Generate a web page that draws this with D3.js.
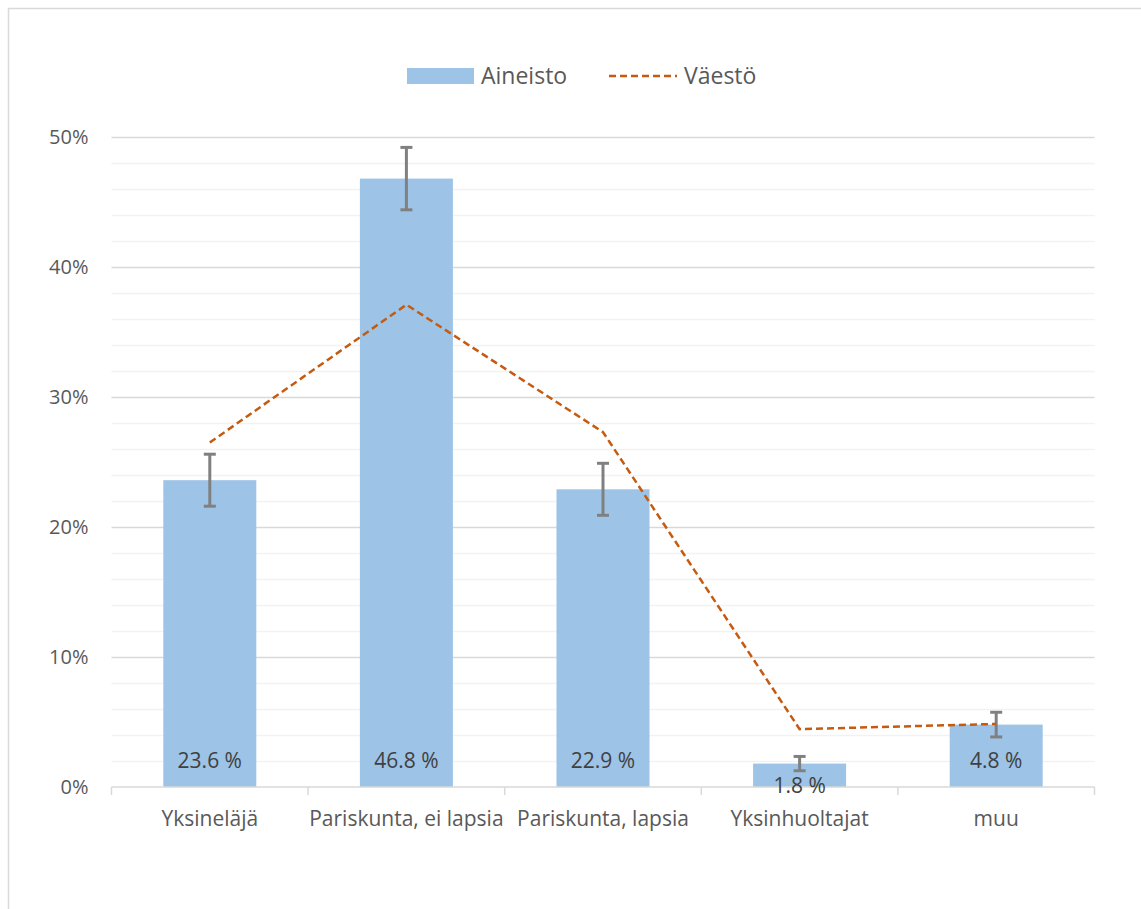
<!DOCTYPE html>
<html><head><meta charset="utf-8">
<script src="https://cdn.jsdelivr.net/npm/d3@7"></script>
<style>body{margin:0;background:#fff}svg{display:block;font-family:"Open Sans","Noto Sans",sans-serif}</style>
</head><body><svg id="c" width="1141" height="909"></svg>
<script>
const categories = ["Yksineläjä","Pariskunta, ei lapsia","Pariskunta, lapsia","Yksinhuoltajat","muu"];
const aineisto = [23.6, 46.8, 22.9, 1.8, 4.8];
const errorMargin = [2.0, 2.4, 2.0, 0.55, 0.95];
const vaesto = [26.5, 37.1, 27.3, 4.45, 4.85];
const dataLabels = ["23.6 %","46.8 %","22.9 %","1.8 %","4.8 %"];
const yTicks = [0,10,20,30,40,50];
const minorTicks = [2,4,6,8,12,14,16,18,22,24,26,28,32,34,36,38,42,44,46,48];

(function(){
const svg = d3.select("#c");
const pL = 111.5, pR = 1094.5, pT = 137, pB = 787;
svg.append("rect").attr("x",8.5).attr("y",8.5).attr("width",1200).attr("height",1000)
  .attr("fill","#fff").attr("stroke","#d9d9d9").attr("stroke-width",1.5);

const x = d3.scaleBand().domain(categories).range([pL,pR]).paddingInner(0.527).paddingOuter(0.2635);
const xb = d3.scaleBand().domain(categories).range([pL,pR]);
const y = d3.scaleLinear().domain([0,50]).range([pB,pT]);

svg.append("g").selectAll("line").data(minorTicks).join("line")
  .attr("x1",pL).attr("x2",pR).attr("y1",d=>Math.round(y(d))+0.5).attr("y2",d=>Math.round(y(d))+0.5)
  .attr("stroke","#f2f2f2").attr("stroke-width",1.5);
svg.append("g").selectAll("line").data(yTicks.filter(d=>d>0)).join("line")
  .attr("x1",pL).attr("x2",pR).attr("y1",d=>Math.round(y(d))+0.5).attr("y2",d=>Math.round(y(d))+0.5)
  .attr("stroke","#d9d9d9").attr("stroke-width",1.5);

const yAxis = svg.append("g").attr("transform",`translate(${pL},0)`)
  .call(d3.axisLeft(y).tickValues(yTicks).tickFormat(d=>d+"%").tickSize(0).tickPadding(23));
yAxis.select(".domain").remove();
yAxis.attr("font-family",null).attr("font-size",null);
yAxis.selectAll("text").attr("fill","#595959").attr("font-size","20px");

svg.append("g").selectAll("rect").data(categories).join("rect")
  .attr("x",d=>x(d)).attr("width",x.bandwidth())
  .attr("y",(d,i)=>y(aineisto[i])).attr("height",(d,i)=>y(0)-y(aineisto[i]))
  .attr("fill","#9dc3e6");

const xAxis = svg.append("g").attr("transform",`translate(0,${pB})`);
xAxis.append("line").attr("x1",pL).attr("x2",pR).attr("y1",0).attr("y2",0).attr("stroke","#d9d9d9").attr("stroke-width",1.5);
xAxis.selectAll("line.tk").data(d3.range(categories.length+1)).join("line").attr("class","tk")
  .attr("x1",i=>pL+i*xb.bandwidth()).attr("x2",i=>pL+i*xb.bandwidth()).attr("y1",0).attr("y2",8)
  .attr("stroke","#d9d9d9").attr("stroke-width",1.5);
xAxis.selectAll("text").data(categories).join("text")
  .attr("x",d=>x(d)+x.bandwidth()/2).attr("y",39).attr("text-anchor","middle")
  .attr("fill","#595959").attr("font-size","21px").text(d=>d);

svg.append("g").selectAll("text").data(categories).join("text")
  .attr("x",d=>x(d)+x.bandwidth()/2)
  .attr("y",(d,i)=>Math.max(y(0)-19, y(aineisto[i])+29)).attr("text-anchor","middle")
  .attr("fill","#404040").attr("font-size","21px").text((d,i)=>dataLabels[i]);

const eg = svg.append("g").attr("stroke","#808080").attr("stroke-width",3);
categories.forEach((c,i)=>{
  const cx = x(c)+x.bandwidth()/2;
  const y1 = y(aineisto[i]+errorMargin[i]), y2 = y(aineisto[i]-errorMargin[i]);
  eg.append("line").attr("x1",cx).attr("x2",cx).attr("y1",y1).attr("y2",y2);
  eg.append("line").attr("x1",cx-6).attr("x2",cx+6).attr("y1",y1).attr("y2",y1);
  eg.append("line").attr("x1",cx-6).attr("x2",cx+6).attr("y1",y2).attr("y2",y2);
});

const line = d3.line().x((d,i)=>x(categories[i])+x.bandwidth()/2).y(d=>y(d));
svg.append("path").datum(vaesto).attr("d",line).attr("fill","none")
  .attr("stroke","#c55a11").attr("stroke-width",2.5).attr("stroke-dasharray","7,4");

const lg = svg.append("g");
lg.append("rect").attr("x",407).attr("y",68).attr("width",67).attr("height",16).attr("fill","#9dc3e6");
lg.append("text").attr("x",481).attr("y",84).attr("fill","#595959").attr("font-size","23px").text("Aineisto");
lg.append("line").attr("x1",609).attr("x2",677).attr("y1",76).attr("y2",76)
  .attr("stroke","#c55a11").attr("stroke-width",2.5).attr("stroke-dasharray","7,4");
lg.append("text").attr("x",684).attr("y",84).attr("fill","#595959").attr("font-size","23px").text("Väestö");
})();
</script></body></html>
